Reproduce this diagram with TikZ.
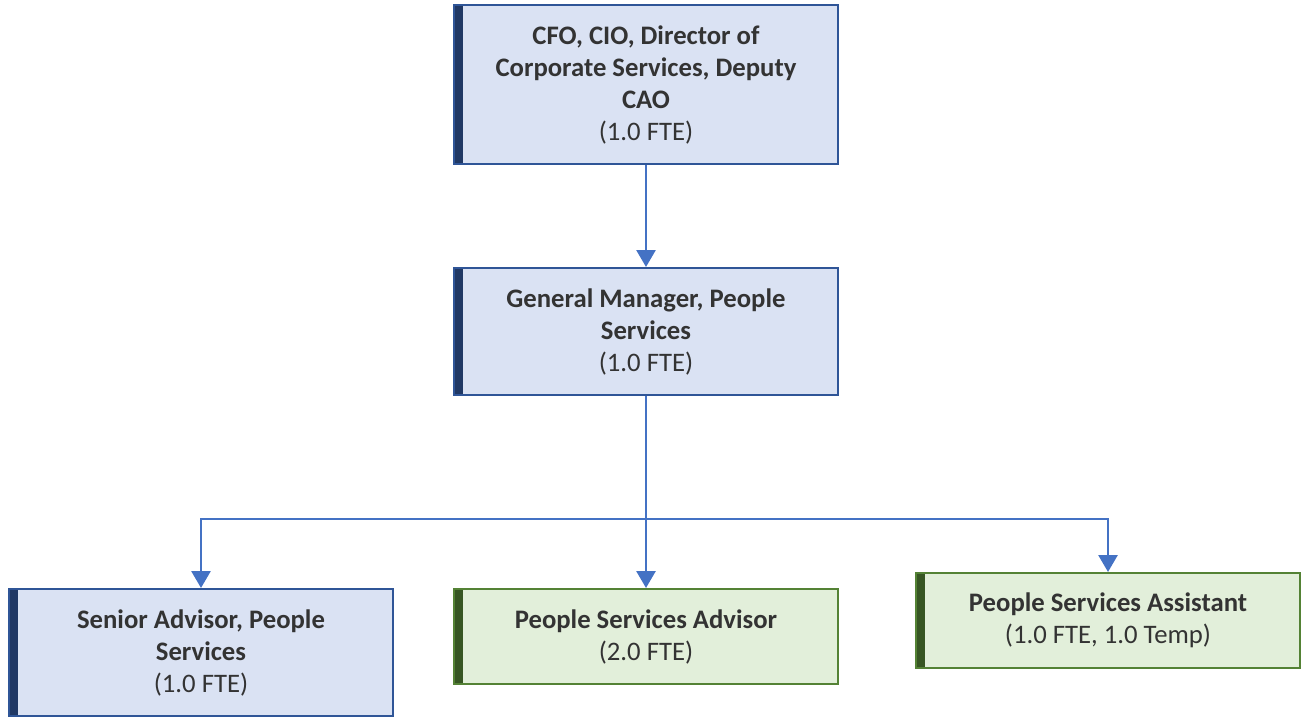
\documentclass[tikz,border=0pt]{standalone}
\usepackage{fontspec}
\setmainfont{Carlito}
\usetikzlibrary{positioning,arrows.meta}

\definecolor{fillblue}{HTML}{DAE2F3}
\definecolor{lineblue}{HTML}{2F5597}
\definecolor{barblue}{HTML}{203864}
\definecolor{fillgreen}{HTML}{E2EFDA}
\definecolor{linegreen}{HTML}{548235}
\definecolor{bargreen}{HTML}{375623}
\definecolor{linkblue}{HTML}{4472C4}
\definecolor{textgrey}{HTML}{333333}

\tikzset{
  role/.style={rectangle, line width=2pt, minimum width=384pt, align=center,
    text=textgrey, font=\fontsize{26.7}{32}\selectfont, inner sep=0pt},
  bluebox/.style={role, draw=lineblue, fill=fillblue,
    path picture={\fill[barblue] (path picture bounding box.south west)
      rectangle ([xshift=9pt]path picture bounding box.north west);}},
  greenbox/.style={role, draw=linegreen, fill=fillgreen,
    path picture={\fill[bargreen] (path picture bounding box.south west)
      rectangle ([xshift=9pt]path picture bounding box.north west);}},
  link/.style={linkblue, line width=2.8pt, -{Triangle[width=19pt,length=17pt]}}
}

\begin{document}
\begin{tikzpicture}[x=1pt,y=-1pt]
  \useasboundingbox (0,0) rectangle (1303,718);

  %top
  \node [bluebox, minimum height=159pt] (cfo) at (646,84.5)
    {\textbf{CFO, CIO, Director of}\\\textbf{Corporate Services, Deputy}\\\textbf{CAO}\\(1.0 FTE)};

  %middle
  \node [bluebox, minimum height=127pt] (gm) at (646,331.5)
    {\textbf{General Manager, People}\\\textbf{Services}\\(1.0 FTE)};

  %bottom row
  \node [bluebox, minimum height=127pt] (sa) at (201,652.5)
    {\textbf{Senior Advisor, People}\\\textbf{Services}\\(1.0 FTE)};
  \node [greenbox, minimum height=95pt] (psad) at (646,636.5)
    {\textbf{People Services Advisor}\\(2.0 FTE)};
  \node [greenbox, minimum height=95pt] (psas) at (1108,620.5)
    {\textbf{People Services Assistant}\\(1.0 FTE, 1.0 Temp)};

  %edges
  \coordinate (split) at (646,519);
  \draw [link] (cfo) -- (gm);
  \draw [linkblue, line width=2.8pt] (gm) -- (split);
  \draw [link] (split) -| (sa);
  \draw [link] (split) -- (psad);
  \draw [link] (split) -| (psas);
\end{tikzpicture}
\end{document}
